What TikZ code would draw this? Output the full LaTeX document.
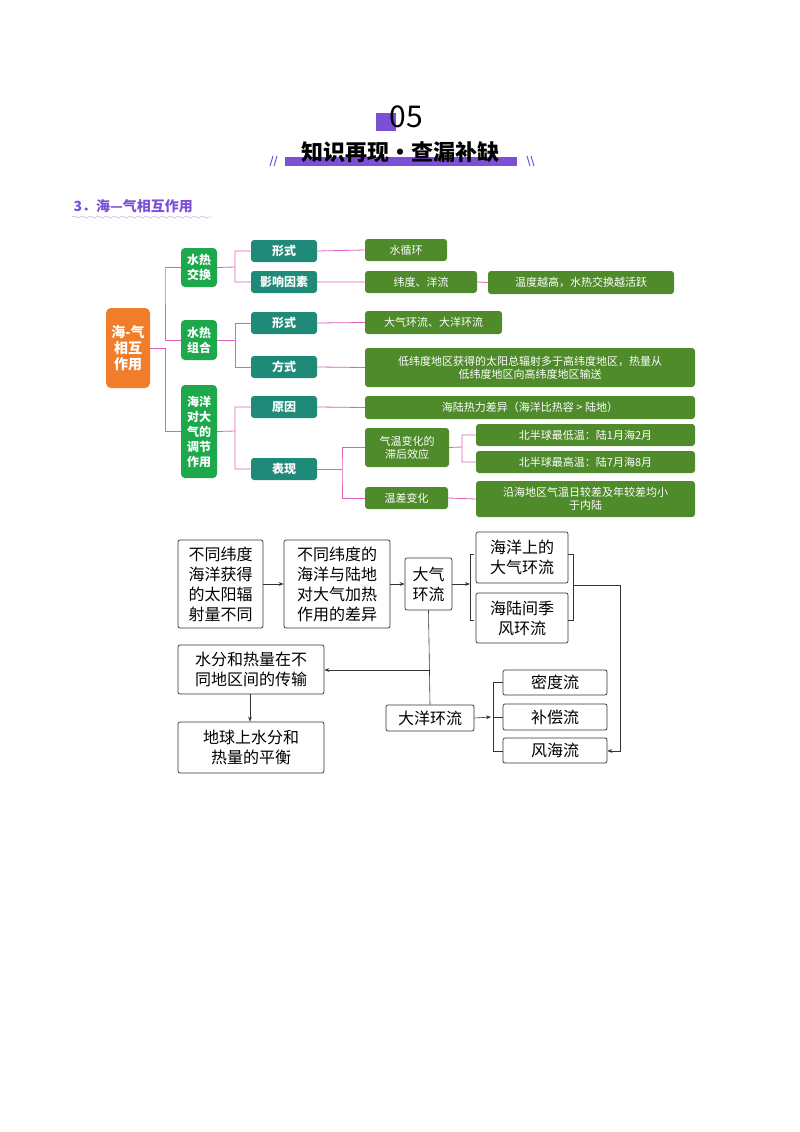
\documentclass[tikz,border=0pt]{standalone}
\usepackage{fontspec}
\setmainfont{Noto Sans CJK SC}
\newfontfamily\cjkb{Noto Sans CJK SC}[BoldFont={* Bold}]
\usetikzlibrary{decorations.pathmorphing,arrows.meta}
\definecolor{orng}{HTML}{F07D2A}
\definecolor{grn}{HTML}{1EA84C}
\definecolor{teal2}{HTML}{1F8A78}
\definecolor{olive}{HTML}{4F8A2B}
\definecolor{pnk}{HTML}{E060C0}
\definecolor{purp}{HTML}{7B4FD6}
\tikzset{
 rootbox/.style={fill=orng,rounded corners=5pt,text=white,font=\fontsize{14}{16}\selectfont\bfseries,align=center,inner sep=0},
 l1box/.style={fill=grn,rounded corners=4pt,text=white,font=\fontsize{12}{15}\selectfont\bfseries,align=center,inner sep=0},
 l2box/.style={fill=teal2,rounded corners=3pt,text=white,font=\fontsize{12}{14}\selectfont\bfseries,align=center,inner sep=0},
 l3box/.style={fill=olive,rounded corners=3pt,text=white,font=\fontsize{11}{13}\selectfont,align=center,inner sep=0},
 mline/.style={pnk,line width=0.8pt},
 fbox/.style={draw=black!80,rounded corners=2pt,line width=0.7pt,font=\fontsize{16}{20}\selectfont,align=center,inner sep=0},
 farr/.style={black!80,line width=0.6pt,-{Stealth[length=5pt]}},
 fln/.style={black!80,line width=0.6pt}
}
\newcommand{\bx}[6]{\node[#1,minimum width={#4-#2},minimum height={#5-#3}] (#6) at ({(#2+#4)/2},{(#3+#5)/2})}
\begin{document}
\begin{tikzpicture}[x=1pt,y=-1pt]
\useasboundingbox (0,0) rectangle (800,1132);
% header
\fill[purp] (376,113) rectangle (396,131);
\node[font=\fontsize{30}{30}\selectfont] at (406,117) {05};
\fill[purp] (285,157) rectangle (517,166);
\node[font=\fontsize{22}{22}\selectfont\bfseries] at (400,152) {知识再现·查漏补缺};
\draw[purp,line width=1pt] (270,166)--(273,156) (274,166)--(277,156) (527,156)--(530,166) (531,156)--(534,166);
\node[purp,anchor=west,font=\fontsize{14}{14}\selectfont\bfseries] at (70,206) {3．海—气相互作用};
\draw[purp!60,decorate,decoration={snake,amplitude=1pt,segment length=8pt}] (72,217)--(212,217);
% mind map boxes
\bx{rootbox}{106}{308}{150}{388}{root}{海-气\\相互\\作用};
\bx{l1box}{181}{248}{217}{287}{a}{水热\\交换};
\bx{l1box}{181}{320}{217}{360}{b}{水热\\组合};
\bx{l1box}{181}{385}{217}{478}{c}{海洋\\对大\\气的\\调节\\作用};
\bx{l2box}{251}{240}{317}{262}{a1}{形式};
\bx{l2box}{251}{271}{317}{293}{a2}{影响因素};
\bx{l2box}{251}{312}{317}{334}{b1}{形式};
\bx{l2box}{251}{356}{317}{378}{b2}{方式};
\bx{l2box}{251}{396}{317}{418}{c1}{原因};
\bx{l2box}{251}{458}{317}{480}{c2}{表现};
\bx{l3box}{365}{239}{447}{261}{a1x}{水循环};
\bx{l3box}{365}{271}{477}{293}{a2x}{纬度、洋流};
\bx{l3box}{488}{271}{674}{294}{a2y}{温度越高，水热交换越活跃};
\bx{l3box}{365}{311}{502}{334}{b1x}{大气环流、大洋环流};
\bx{l3box}{365}{348}{695}{387}{b2x}{低纬度地区获得的太阳总辐射多于高纬度地区，热量从\\低纬度地区向高纬度地区输送};
\bx{l3box}{365}{396}{695}{419}{c1x}{海陆热力差异（海洋比热容 > 陆地）};
\bx{l3box}{365}{428}{449}{467}{c2a}{气温变化的\\滞后效应};
\bx{l3box}{476}{424}{695}{446}{c2a1}{北半球最低温：陆1月海2月};
\bx{l3box}{476}{451}{695}{473}{c2a2}{北半球最高温：陆7月海8月};
\bx{l3box}{365}{487}{448}{509}{c2b}{温差变化};
\bx{l3box}{476}{481}{695}{517}{c2bx}{沿海地区气温日较差及年较差均小\\于内陆};
% mind map lines
\draw[mline] (root.east)--(165,348) (a.west)-|(165,267)|-(b.west) (165,348)|-(c.west);
\draw[mline] (a.east)--(235,267) (a1.west)-|(235,251)|-(a2.west);
\draw[mline] (b.east)--(235,340) (b1.west)-|(235,323)|-(b2.west);
\draw[mline] (c.east)--(235,431) (c1.west)-|(235,407)|-(c2.west);
\draw[mline] (a1.east)--(a1x.west) (a2.east)--(a2x.west) (a2x.east)--(a2y.west)
 (b1.east)--(b1x.west) (b2.east)--(b2x.west) (c1.east)--(c1x.west);
\draw[mline] (c2.east)--(342,469) (c2a.west)-|(342,469)|-(c2b.west);
\draw[mline] (c2a.east)--(462,447) (c2a1.west)-|(462,447)|-(c2a2.west);
\draw[mline] (c2b.east)--(c2bx.west);
% flow chart
\bx{fbox}{178}{540}{263}{628}{A}{不同纬度\\海洋获得\\的太阳辐\\射量不同};
\bx{fbox}{284}{540}{390}{628}{B}{不同纬度的\\海洋与陆地\\对大气加热\\作用的差异};
\bx{fbox}{405}{558}{452}{610}{C}{大气\\环流};
\bx{fbox}{476}{532}{568}{583}{D}{海洋上的\\大气环流};
\bx{fbox}{476}{593}{568}{643}{E}{海陆间季\\风环流};
\bx{fbox}{178}{645}{324}{694}{F}{水分和热量在不\\同地区间的传输};
\bx{fbox}{178}{722}{324}{773}{G}{地球上水分和\\热量的平衡};
\bx{fbox}{386}{705}{474}{731}{H}{大洋环流};
\bx{fbox}{503}{670}{607}{695}{I}{密度流};
\bx{fbox}{503}{704}{607}{730}{J}{补偿流};
\bx{fbox}{503}{738}{607}{763}{K}{风海流};
\coordinate (p1) at (470,584);
\coordinate (p2) at (573,585);
\coordinate (p3) at (430,670);
\coordinate (p4) at (491,717);
\draw[farr] (A.east|-0,584)--(B.west|-0,584);
\draw[farr] (B.east|-0,584)--(C.west|-0,584);
\draw[farr] (C.east|-0,584)--(p1);
\draw[fln] (474,554)--(470,554)--(470,620)--(474,620);
\draw[fln] (568,554)--(573,554)--(573,620)--(568,620);
\draw[farr] (p2)--(620,585)--(620,751)--(K.east|-0,751);
\draw[fln] (C.south)--(H.north);
\draw[farr] (p3)--(F.east|-p3);
\draw[farr] (F.south-|250,0)--(G.north-|250,0);
\draw[farr] (H.east)--(p4);
\draw[fln] (I.west)-|(493,751)--(K.west|-0,751) (493,717)--(J.west);
\end{tikzpicture}
\end{document}
